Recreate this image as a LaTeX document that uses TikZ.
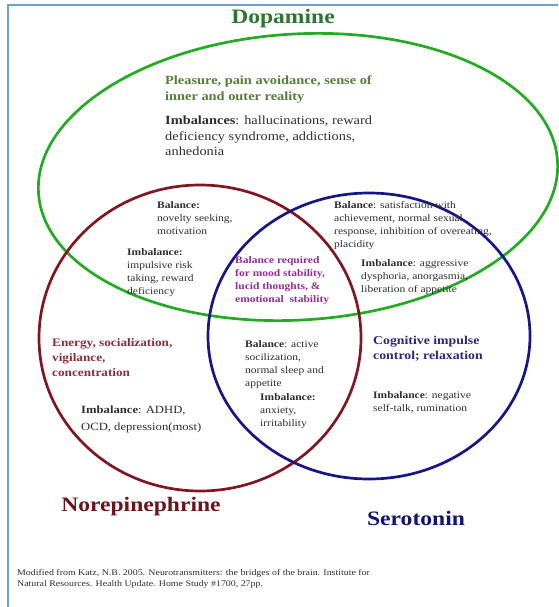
\documentclass[tikz,border=0pt]{standalone}
\usepackage{fontspec}
\setmainfont{Liberation Serif}[FakeStretch=1.15]
\definecolor{dopagreen}{RGB}{34,172,34}
\definecolor{dopatext}{RGB}{40,120,45}
\definecolor{pleastext}{RGB}{85,125,55}
\definecolor{norered}{RGB}{130,22,32}
\definecolor{noretext}{RGB}{140,45,60}
\definecolor{serblue}{RGB}{22,22,135}
\definecolor{sertext}{RGB}{40,40,125}
\definecolor{moodpurple}{RGB}{150,45,150}
\definecolor{framebl}{RGB}{110,160,215}
\definecolor{bodygray}{RGB}{45,45,45}
\tikzset{
  title/.style={font=\fontsize{20.5}{24}\selectfont\bfseries, inner sep=0pt},
  blurb/.style={anchor=north west, align=left, inner sep=0pt, text=bodygray,
    font=\fontsize{10}{13}\selectfont},
  ring/.style={line width=2.7pt}
}
\begin{document}
\begin{tikzpicture}[x=1pt, y=-1pt]
    \useasboundingbox (0,0) rectangle (558,607);
    % 外框
    \draw[framebl, line width=1.2pt] (8,607) -- (8,5) -- (558,5);

    % 三个圆
    \draw[ring, dopagreen, rotate around={3.5:(298,177)}] (298,177) ellipse (260 and 143);
    \draw[ring, norered] (200,338) ellipse (161 and 153);
    \draw[ring, serblue] (369,336) ellipse (161 and 143);

    % 标题
    \node[title, text=dopatext] (dopa) at (283,19) {Dopamine};
    \node[title, text=norered!85!black] (nore) at (141,507) {Norepinephrine};
    \node[title, text=serblue!85!black] (sero) at (416,518) {Serotonin};

    % 多巴胺
    \node[blurb, text=pleastext, font=\fontsize{12.5}{16}\selectfont\bfseries] (pleas) at (165,75)
      {Pleasure, pain avoidance, sense of\\inner and outer reality};
    \node[blurb, font=\fontsize{12.5}{15.5}\selectfont] (dimb) at (165,116)
      {\textbf{Imbalances}: hallucinations, reward\\deficiency syndrome, addictions,\\anhedonia};

    % 多巴胺与去甲肾上腺素
    \node[blurb] (dnbal) at (157,201) {\textbf{Balance:}\\novelty seeking,\\motivation};
    \node[blurb] (dnimb) at (127,248) {\textbf{Imbalance:}\\impulsive risk\\taking, reward\\deficiency};

    % 中间
    \node[blurb, text=moodpurple, font=\fontsize{10}{13}\selectfont\bfseries] (mood) at (235,256)
      {Balance required\\for mood stability,\\lucid thoughts, \&\\emotional~~stability};

    % 多巴胺与血清素
    \node[blurb] (dsbal) at (334,201)
      {\textbf{Balance}: satisfaction with\\achievement, normal sexual\\response, inhibition of overeating,\\placidity};
    \node[blurb] (dsimb) at (361,259)
      {\textbf{Imbalance}: aggressive\\dysphoria, anorgasmia,\\liberation of appetite};

    % 去甲肾上腺素
    \node[blurb, text=noretext, font=\fontsize{11.5}{15}\selectfont\bfseries] (energy) at (52,338)
      {Energy, socialization,\\vigilance,\\concentration};
    \node[blurb, font=\fontsize{11}{17}\selectfont] (nimb) at (81,406)
      {\textbf{Imbalance}: ADHD,\\OCD, depression(most)};

    % 去甲肾上腺素与血清素
    \node[blurb] (nsbal) at (245,340)
      {\textbf{Balance}: active\\socilization,\\normal sleep and\\appetite};
    \node[blurb] (nsimb) at (260,393) {\textbf{Imbalance:}\\anxiety,\\irritability};

    % 血清素
    \node[blurb, text=sertext, font=\fontsize{12}{15}\selectfont\bfseries] (cogn) at (373,335.5)
      {Cognitive impulse\\control; relaxation};
    \node[blurb, font=\fontsize{10}{13.5}\selectfont] (simb) at (373,391)
      {\textbf{Imbalance}: negative\\self-talk, rumination};

    % 出处
    \node[blurb, font=\fontsize{8.6}{11}\selectfont] (src) at (17,569)
      {Modified from Katz, N.B. 2005. Neurotransmitters: the bridges of the brain. Institute for\\Natural Resources. Health Update. Home Study \#1700, 27pp.};
\end{tikzpicture}
\end{document}
